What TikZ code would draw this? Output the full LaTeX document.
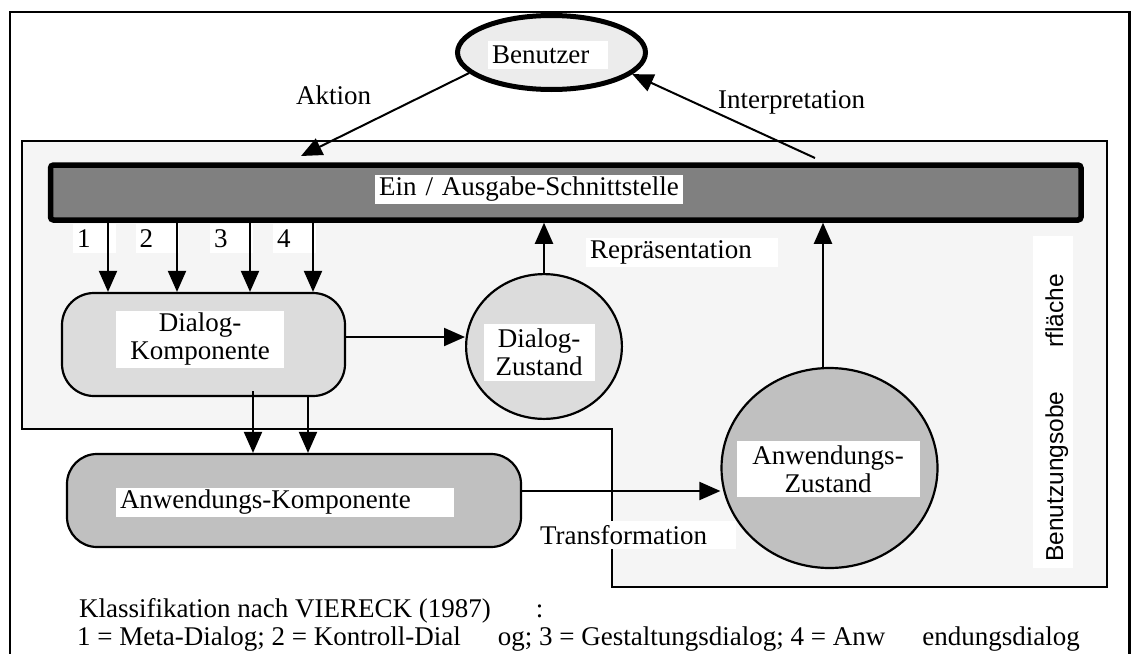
\documentclass[tikz,border=0pt]{standalone}
\usepackage{fontspec}
\setmainfont{Liberation Serif}
\newfontfamily\sansf{Liberation Sans}
\usetikzlibrary{arrows.meta,shapes.geometric}
\definecolor{panel}{HTML}{F5F5F5}
\definecolor{barfill}{HTML}{808080}
\definecolor{userfill}{HTML}{ECECEC}
\definecolor{lightfill}{HTML}{DCDCDC}
\definecolor{darkfill}{HTML}{C0C0C0}
\begin{document}
\begin{tikzpicture}[x=1pt,y=-1pt,
  every node/.style={font=\fontsize{27}{28}\selectfont},
  lbl/.style={fill=white, inner xsep=4pt, inner ysep=0pt, align=left},
  lblc/.style={fill=white, inner xsep=4pt, inner ysep=0pt, align=center},
  arr/.style={line width=2pt, -{Triangle[length=21pt,width=18pt]}},
  shp/.style={draw, line width=2.2pt, inner sep=0pt},
  plain/.style={anchor=base west, inner sep=0pt}
]
\useasboundingbox (0,0) rectangle (1131,653);
\clip (0,0) rectangle (1131,653);

% outer frame and interface panel
\draw[line width=2.5pt] (10,680) -- (10,12) -- (1129.5,12) -- (1129.5,680);
\draw[fill=panel, line width=1.5pt] (22,141) -- (1107,141) -- (1107,587) -- (612,587) -- (612,429) -- (22,429) -- cycle;

% I/O bar
\node[draw, line width=5.5pt, fill=barfill, rounded corners=3pt, minimum width=1030.5pt, minimum height=55pt, inner sep=0pt] (bar) at (565.75,192.5) {};
\node[lbl, text width=300pt, minimum height=29pt] (barlbl) at (529,189.5) {Ein / Ausgabe-Schnittstelle};

% user
\node[ellipse, draw, line width=5pt, fill=userfill, minimum width=188pt, minimum height=74pt, inner sep=0pt] (benutzer) at (551.5,52.5) {};
\node[lbl, text width=112pt, minimum height=28pt] (benlbl) at (548,55) {Benutzer};

% components and states
\node[shp, rounded corners=32pt, fill=lightfill, minimum width=283pt, minimum height=103pt] (dk) at (203.5,344.5) {};
\node[lblc, text width=160pt, minimum height=57pt] (dklbl) at (200,339.5) {Dialog-\\Komponente};

\node[shp, ellipse, fill=lightfill, minimum width=155.8pt, minimum height=144.8pt] (dz) at (544,346.5) {};
\node[lblc, text width=103pt, minimum height=57pt] (dzlbl) at (539,352.5) {Dialog-\\Zustand};

\node[shp, ellipse, fill=darkfill, minimum width=216pt, minimum height=200pt] (anz) at (829.5,468) {};
\node[lblc, text width=175pt, minimum height=56pt] (anzlbl) at (828,469) {Anwendungs-\\Zustand};

\node[shp, rounded corners=30pt, fill=darkfill, minimum width=454pt, minimum height=93pt] (ak) at (294,500.5) {};
\node[lbl, text width=330pt, minimum height=29pt] (aklbl) at (285,502.5) {Anwendungs-Komponente};

% labels
\node[lbl, text width=184pt, minimum height=29pt] (replbl) at (682,252.5) {Repräsentation};
\node[lbl, text width=192pt, minimum height=28pt] (trlbl) at (636,535) {Transformation};
\node[lbl, text width=35pt, minimum height=29pt] (n1) at (94.5,238.5) {1};
\node[lbl, text width=35pt, minimum height=29pt] (n2) at (157,238.5) {2};
\node[lbl, text width=35pt, minimum height=29pt] (n3) at (231.5,238.5) {3};
\node[lbl, text width=35pt, minimum height=29pt] (n4) at (294.5,238.5) {4};
\node[fill=white, minimum width=40pt, minimum height=332pt, inner sep=0pt] (bobg) at (1053,402) {};
\node[rotate=90, anchor=base west, inner sep=0pt, font=\sansf\fontsize{24.5}{26}\selectfont] (bolbl) at (1063,562) {Benutzungsobe\hspace{44pt}rfläche};
\node[plain] (aktlbl) at (296,104) {Aktion};
\node[plain] (intlbl) at (718,108) {Interpretation};

% user arrows
\coordinate (aktend) at (301,156);
\coordinate (intstart) at (815,158);
\draw[arr] (benutzer.194) -- (aktend);
\draw[arr] (intstart) -- (benutzer.-15);

% bar to dialog component
\coordinate (c1) at (108,0);
\coordinate (c2) at (177,0);
\coordinate (c3) at (250,0);
\coordinate (c4) at (313,0);
\draw[arr] (bar.south -| c1) -- (dk.north -| c1);
\draw[arr] (bar.south -| c2) -- (dk.north -| c2);
\draw[arr] (bar.south -| c3) -- (dk.north -| c3);
\draw[arr] (bar.south -| c4) -- (dk.north -| c4);

% dialog component to dialog state
\coordinate (ydz) at (0,337);
\draw[arr] (dk.east |- ydz) -- (dz.west |- ydz);
\draw[arr] (dz.north) -- (dz.north |- bar.south);

% application state to bar
\coordinate (c823) at (823,0);
\draw[arr] (anz.north -| c823) -- (bar.south -| c823);

% dialog component to application component
\coordinate (c253) at (253,391);
\coordinate (c308) at (308,0);
\draw[arr] (c253) -- (ak.north -| c253);
\draw[arr] (dk.south -| c308) -- (ak.north -| c308);

% transformation
\coordinate (ytr) at (0,491);
\draw[arr] (ak.east |- ytr) -- (anz.west |- ytr);

% legend
\node[plain] (cls) at (79,617) {Klassifikation nach VIERECK (1987)\hspace{45pt}:};
\node[plain] (leg) at (77,645) {1 = Meta-Dialog; 2 = Kontroll-Dial\hspace{37pt}og; 3 = Gestaltungsdialog; 4 = Anw\hspace{37pt}endungsdialog};
\end{tikzpicture}
\end{document}
